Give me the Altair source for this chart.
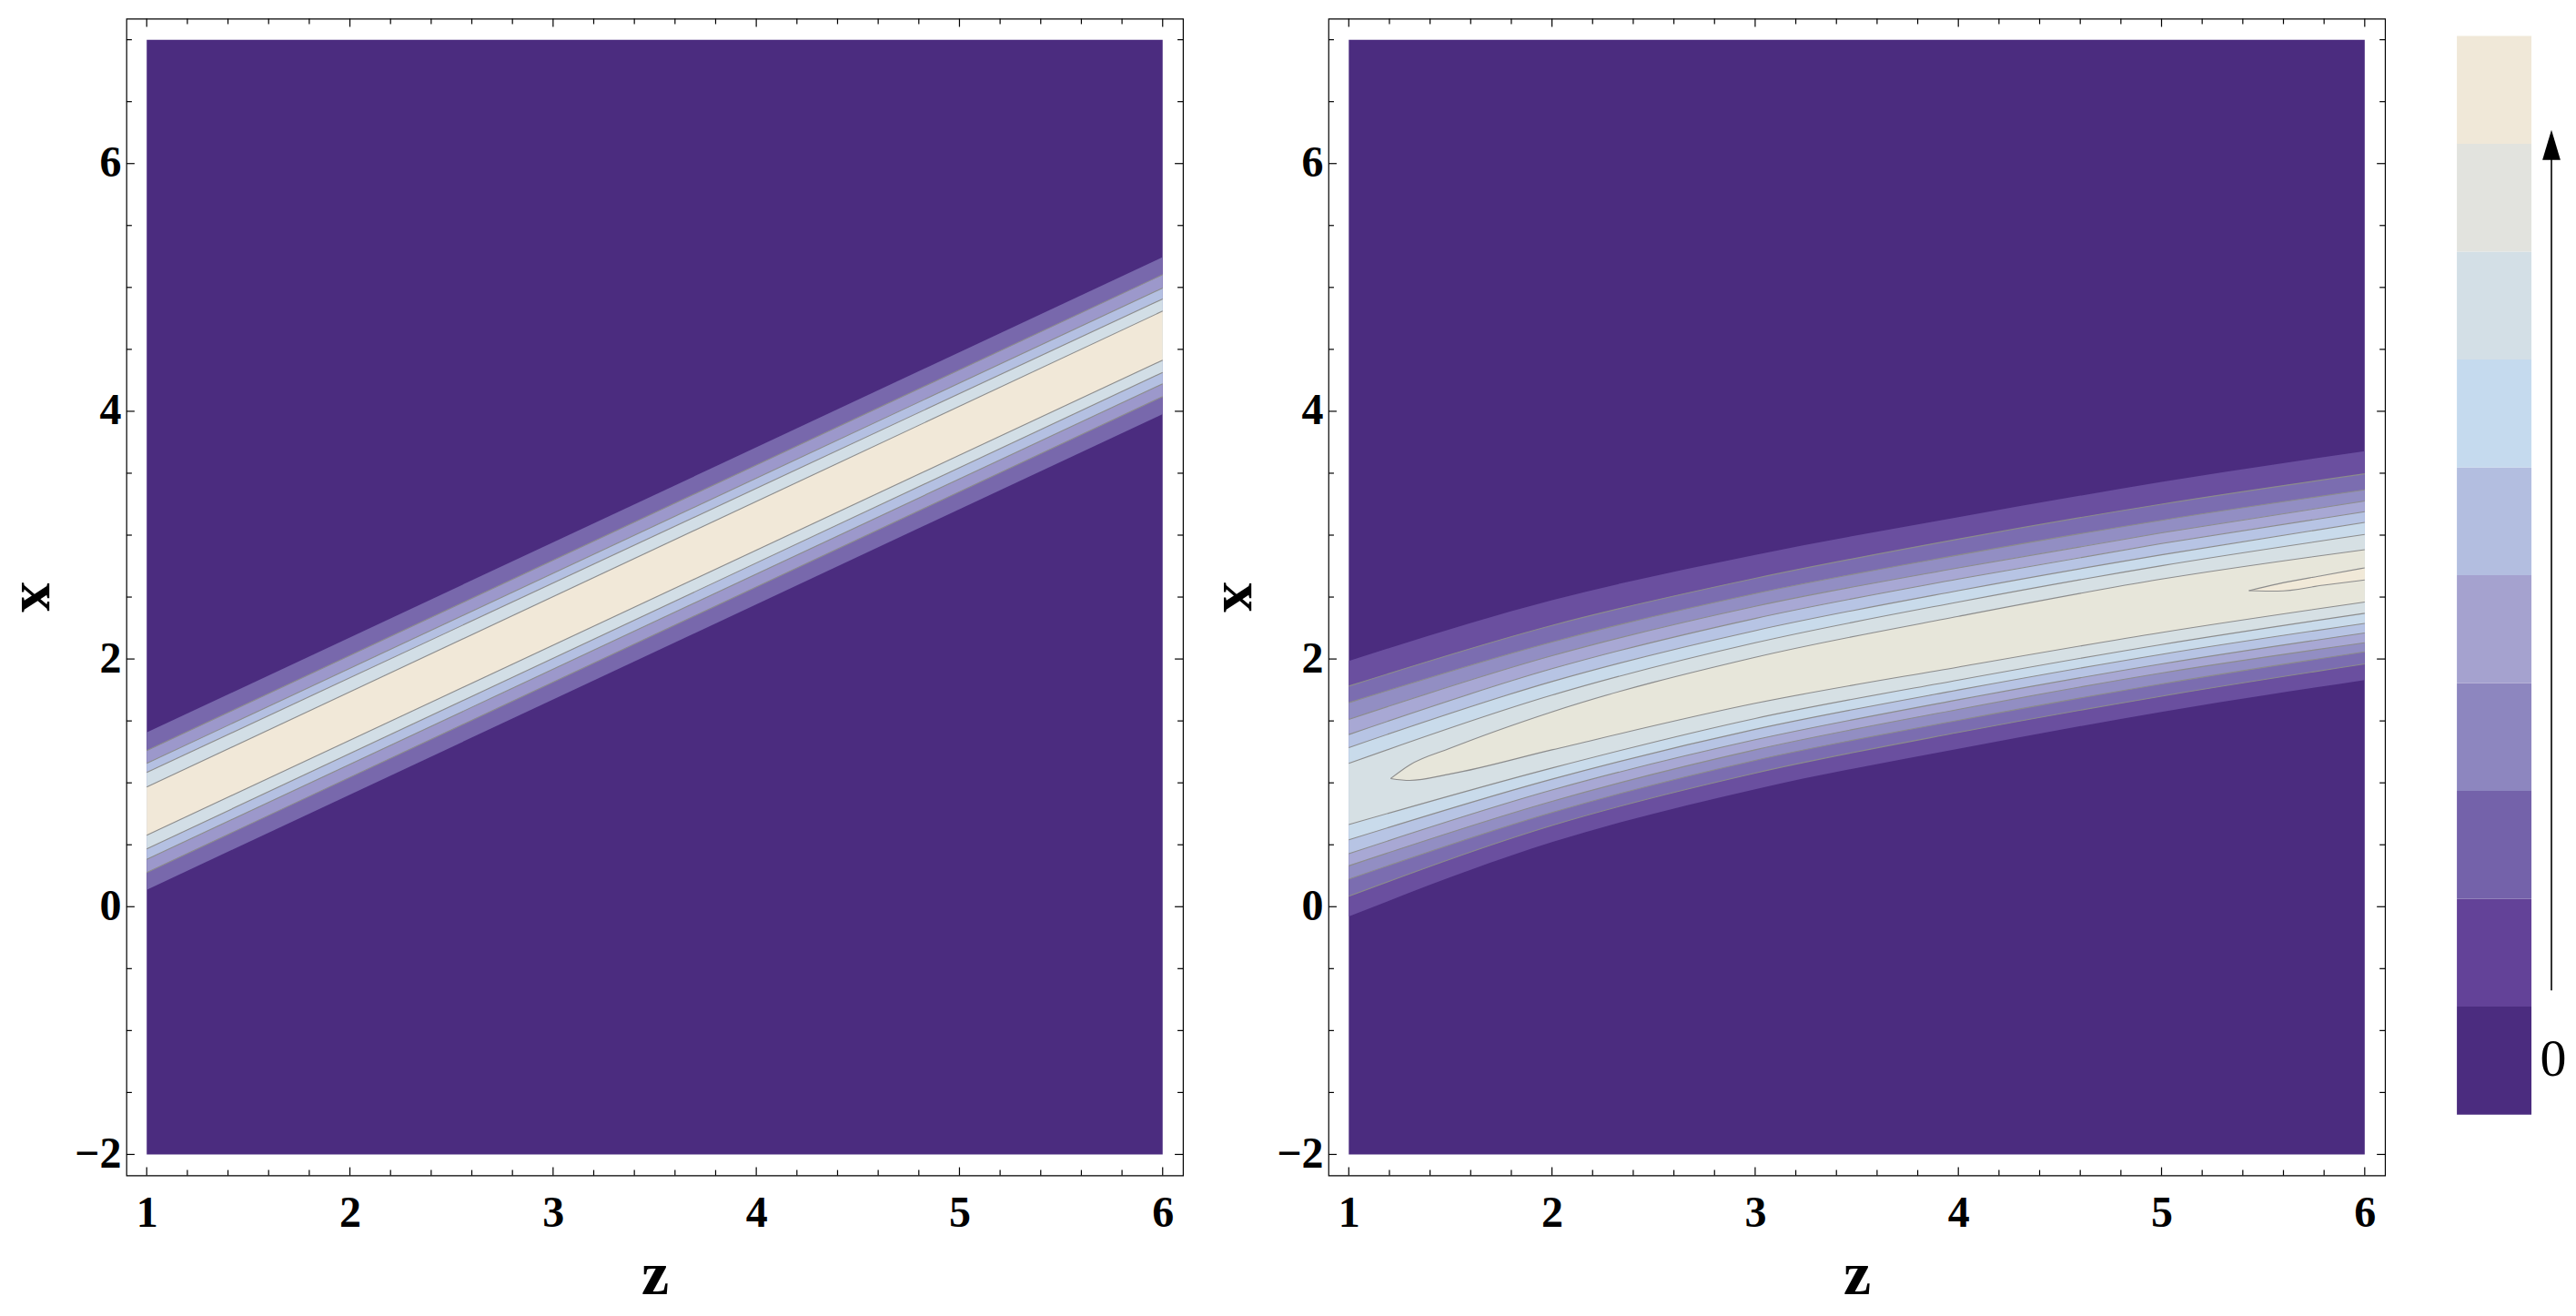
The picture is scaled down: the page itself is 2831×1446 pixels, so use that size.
import altair as alt
import pandas as pd

# ---------------- values ----------------
FONT = "Liberation Serif"
DARK = "#4b2c7f"
LINE_GRAY = "#8c8c8c"

Z_RANGE = [1, 6]
X_RANGE = [-2, 7]
Z_DOMAIN = [0.9, 6.1]
X_DOMAIN = [-2.17, 7.17]

Z_MAJOR = [1, 2, 3, 4, 5, 6]
Z_MINOR = [1.2, 1.4, 1.6, 1.8, 2.2, 2.4, 2.6, 2.8, 3.2, 3.4, 3.6, 3.8,
           4.2, 4.4, 4.6, 4.8, 5.2, 5.4, 5.6, 5.8]
X_MAJOR = [-2, 0, 2, 4, 6]
X_MINOR = [-1.5, -1, -0.5, 0.5, 1, 1.5, 2.5, 3, 3.5, 4.5, 5, 5.5, 6.5, 7]

# left panel: straight bands, boundaries at z = 1 and z = 6 (outer -> inner)
LEFT_Z = [1, 6]
LEFT_LO = [[0.137, 3.977], [0.276, 4.119], [0.382, 4.222], [0.467, 4.314], [0.577, 4.413]]
LEFT_HI = [[1.407, 5.244], [1.260, 5.103], [1.157, 4.995], [1.084, 4.907], [0.966, 4.809]]
LEFT_COLORS = ["#7868ac", "#9c98cb", "#b4c0e2", "#d2dee6", "#f1e8d8"]

# right panel: curved bands at z = 1..6 (outer -> inner)
RIGHT_Z = [1, 2, 3, 4, 5, 6]
RIGHT_LO = [
    [-0.079, 0.521, 0.949, 1.275, 1.573, 1.830],
    [0.085, 0.656, 1.079, 1.407, 1.700, 1.960],
    [0.222, 0.761, 1.182, 1.505, 1.799, 2.058],
    [0.330, 0.851, 1.267, 1.593, 1.887, 2.131],
    [0.428, 0.942, 1.348, 1.671, 1.960, 2.210],
    [0.540, 1.030, 1.432, 1.750, 2.038, 2.288],
    [0.663, 1.120, 1.520, 1.830, 2.117, 2.369],
]
RIGHT_HI = [
    [1.985, 2.474, 2.841, 3.145, 3.429, 3.678],
    [1.781, 2.271, 2.651, 2.968, 3.250, 3.495],
    [1.647, 2.137, 2.528, 2.839, 3.120, 3.365],
    [1.512, 2.026, 2.425, 2.736, 3.018, 3.275],
    [1.390, 1.921, 2.327, 2.645, 2.932, 3.189],
    [1.285, 1.818, 2.229, 2.552, 2.841, 3.103],
    [1.157, 1.708, 2.131, 2.460, 2.753, 3.005],
]
RIGHT_COLORS = ["#6a4f9f", "#7b6db0", "#928ec3", "#a8a8d4", "#b7c4e4", "#c9dbeb", "#d6e0e4"]

CORE_Z = [1.206, 1.3, 1.5, 2, 3, 4, 5, 6]
CORE_LO = [1.035, 1.020, 1.072, 1.267, 1.642, 1.935, 2.214, 2.460]
CORE_HI = [1.035, 1.145, 1.280, 1.573, 2.014, 2.344, 2.645, 2.883]
CORE_COLOR = "#e7e6da"

PEAK_Z = [5.43, 5.572, 5.796, 6.0]
PEAK_LO = [2.552, 2.548, 2.596, 2.638]
PEAK_HI = [2.552, 2.606, 2.675, 2.736]
PEAK_COLOR = "#f1e9d8"

# colour bar
LEGEND_COLORS = ["#4b2c7f", "#634298", "#7462aa", "#8d86bf", "#a5a2cf",
                 "#b3bee0", "#c5daee", "#d3dfe6", "#e2e3de", "#f0e8d8"]
LEGEND_LO = [0, 1, 2, 3, 4, 5, 6, 7, 8, 9]
LEGEND_HI = [1, 2, 3, 4, 5, 6, 7, 8, 9, 10]
LEGEND_DOMAIN = [-0.565, 10.16]
ARROW_FROM = 1.15
ARROW_TO = 8.95
ARROW_HEAD = 8.99
LEGEND_LABEL = "0"
LEGEND_LABEL_POS = 0.5

# ---------------- layout ----------------
W, H = 1162, 1272
BAR_W = 82
LEG_W = 122
MAJ, MIN = 9, 6

zs = alt.Scale(domain=Z_DOMAIN, nice=False, zero=False)
xs = alt.Scale(domain=X_DOMAIN, nice=False, zero=False)


def x_enc(field):
    return alt.X(field, type="quantitative", scale=zs,
                 axis=alt.Axis(values=Z_MAJOR, format="d", title="z",
                               labelFont=FONT, labelFontSize=48, labelFontWeight="bold",
                               labelColor="black", labelPadding=18, labelFlush=False,
                               titleFont=FONT, titleFontSize=68, titleFontWeight="bold",
                               titleColor="black", titlePadding=10,
                               ticks=False, tickSize=0, domain=False, grid=False))


def y_enc(field):
    return alt.Y(field, type="quantitative", scale=xs,
                 axis=alt.Axis(values=X_MAJOR, format="d", title="x",
                               labelFont=FONT, labelFontSize=48, labelFontWeight="bold",
                               labelColor="black", labelPadding=6, labelFlush=False,
                               titleFont=FONT, titleFontSize=66, titleFontWeight="bold",
                               titleColor="black", titlePadding=6,
                               titleAngle=90, titleBaseline="top",
                               ticks=False, tickSize=0, domain=False, grid=False))


def band(z, lo, hi, color, interp):
    df = pd.DataFrame({"z": z, "lo": lo, "hi": hi})
    return alt.Chart(df).mark_area(color=color, opacity=1, interpolate=interp,
                                   strokeWidth=0).encode(
        x=x_enc("z"), y=y_enc("lo"), y2="hi")


def lines(z_list, series, interp):
    rows = []
    for i, s in enumerate(series):
        for zz, v in zip(z_list, s):
            rows.append({"id": i, "z": zz, "v": v})
    df = pd.DataFrame(rows)
    return alt.Chart(df).mark_line(color=LINE_GRAY, strokeWidth=1.1,
                                   interpolate=interp).encode(
        x=x_enc("z"), y=y_enc("v"), detail="id:N")


def ticks():
    layers = []
    for vals, ln in ((Z_MAJOR, MAJ), (Z_MINOR, MIN)):
        df = pd.DataFrame({"t": vals})
        layers.append(alt.Chart(df).mark_rule(color="black", strokeWidth=1.2).encode(
            x=x_enc("t"), y=alt.value(H), y2=alt.value(H - ln)))
        layers.append(alt.Chart(df).mark_rule(color="black", strokeWidth=1.2).encode(
            x=x_enc("t"), y=alt.value(0), y2=alt.value(ln)))
    for vals, ln in ((X_MAJOR, MAJ), (X_MINOR, MIN)):
        df = pd.DataFrame({"t": vals})
        layers.append(alt.Chart(df).mark_rule(color="black", strokeWidth=1.2).encode(
            y=y_enc("t"), x=alt.value(0), x2=alt.value(ln)))
        layers.append(alt.Chart(df).mark_rule(color="black", strokeWidth=1.2).encode(
            y=y_enc("t"), x=alt.value(W), x2=alt.value(W - ln)))
    return layers


def background():
    df = pd.DataFrame({"z0": [Z_RANGE[0]], "z1": [Z_RANGE[1]],
                       "x0": [X_RANGE[0]], "x1": [X_RANGE[1]]})
    return alt.Chart(df).mark_rect(color=DARK, strokeWidth=0).encode(
        x=x_enc("z0"), x2="z1", y=y_enc("x0"), y2="x1")


# left panel
left_layers = [background()]
for lo, hi, c in zip(LEFT_LO, LEFT_HI, LEFT_COLORS):
    left_layers.append(band(LEFT_Z, lo, hi, c, "linear"))
left_layers.append(lines(LEFT_Z, LEFT_LO[1:] + LEFT_HI[1:], "linear"))
left_layers += ticks()
left = alt.layer(*left_layers).properties(width=W, height=H)

# right panel
right_layers = [background()]
for lo, hi, c in zip(RIGHT_LO, RIGHT_HI, RIGHT_COLORS):
    right_layers.append(band(RIGHT_Z, lo, hi, c, "monotone"))
right_layers.append(band(CORE_Z, CORE_LO, CORE_HI, CORE_COLOR, "monotone"))
right_layers.append(band(PEAK_Z, PEAK_LO, PEAK_HI, PEAK_COLOR, "monotone"))
right_layers.append(lines(RIGHT_Z, RIGHT_LO[1:] + RIGHT_HI[1:], "monotone"))
right_layers.append(lines(CORE_Z, [CORE_LO, CORE_HI], "monotone"))
right_layers.append(lines(PEAK_Z, [PEAK_LO, PEAK_HI], "monotone"))
right_layers += ticks()
right = alt.layer(*right_layers).properties(width=W, height=H)

# colour bar
ls = alt.Scale(domain=LEGEND_DOMAIN, nice=False, zero=False)
leg_df = pd.DataFrame({"lo": LEGEND_LO, "hi": LEGEND_HI, "c": LEGEND_COLORS})
bar = alt.Chart(leg_df).mark_rect(strokeWidth=0).encode(
    x=alt.value(0), x2=alt.value(BAR_W),
    y=alt.Y("lo:Q", scale=ls, axis=None), y2="hi:Q",
    color=alt.Color("c:N", scale=None, legend=None))
arrow_df = pd.DataFrame({"a": [ARROW_FROM], "b": [ARROW_TO], "h": [ARROW_HEAD],
                         "lp": [LEGEND_LABEL_POS], "lab": [LEGEND_LABEL]})
arrow = alt.Chart(arrow_df).mark_rule(color="black", strokeWidth=1.6).encode(
    x=alt.value(BAR_W + 22), y=alt.Y("a:Q", scale=ls, axis=None), y2="b:Q")
head = alt.Chart(arrow_df).mark_point(
    shape="M-0.6,1L0,-1L0.6,1Z", filled=True, color="black", opacity=1,
    size=1090, strokeWidth=0).encode(
    x=alt.value(BAR_W + 22), y=alt.Y("h:Q", scale=ls, axis=None))
zero = alt.Chart(arrow_df).mark_text(font=FONT, fontSize=58, color="black",
                                     align="center", baseline="middle").encode(
    x=alt.value(BAR_W + 24), y=alt.Y("lp:Q", scale=ls, axis=None), text="lab:N")
legend = alt.layer(bar, arrow, head, zero).properties(
    width=LEG_W, height=H, view=alt.ViewBackground(stroke="transparent"))

chart = alt.hconcat(
    alt.hconcat(left, right, spacing=29),
    legend, spacing=76,
).properties(
    padding={"left": 2, "top": 10, "right": 0, "bottom": 0}
).configure_view(stroke="black", strokeWidth=1.2)

chart.save("out.html", embed_options={"renderer": "svg", "actions": False})
